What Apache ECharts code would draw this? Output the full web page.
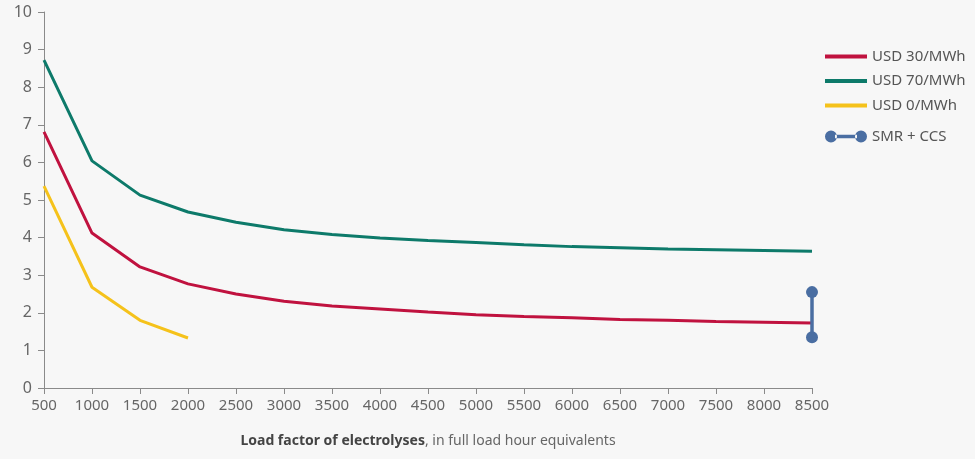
<!DOCTYPE html>
<html>
<head>
<meta charset="utf-8">
<script src="https://cdn.jsdelivr.net/npm/echarts@6/dist/echarts.min.js"></script>
<style>
html,body{margin:0;padding:0;background:#f7f7f7;}
#c{width:975px;height:459px;}
</style>
</head>
<body>
<div id="c"></div>
<script>
const loadHours = [500,1000,1500,2000,2500,3000,3500,4000,4500,5000,5500,6000,6500,7000,7500,8000,8500];
const usd30 = [6.81,4.12,3.22,2.77,2.50,2.31,2.18,2.10,2.02,1.95,1.90,1.87,1.82,1.80,1.77,1.75,1.73];
const usd70 = [8.72,6.04,5.13,4.68,4.41,4.21,4.08,3.99,3.92,3.87,3.81,3.76,3.73,3.70,3.68,3.66,3.64];
const usd0 = [5.37,2.68,1.80,1.33];
const smrX = [8500,8500];
const smrY = [2.55,1.35];
const seriesNames = ['USD 30/MWh','USD 70/MWh','USD 0/MWh','SMR + CCS'];

const pair = (xs, ys) => ys.map((v,i)=>[xs[i], v]);
const font = "'Noto Sans',sans-serif";
const legendText = {color:'#555',fontSize:15,fontFamily:font};
const chart = echarts.init(document.getElementById('c'));
chart.setOption({
  backgroundColor:'#f7f7f7',
  animation:false,
  grid:{left:44,right:163,top:12,bottom:71},
  legend:[
    {
      orient:'vertical', left:820, top:44, itemWidth:42, itemHeight:4, itemGap:9.5,
      icon:'rect', textStyle:legendText,
      data:[seriesNames[0],seriesNames[1],seriesNames[2]]
    },
    {
      orient:'vertical', left:820, top:124, itemWidth:42, itemHeight:12,
      textStyle:legendText,
      itemStyle:{color:'#4a6ea2',borderWidth:0},
      data:[{name:seriesNames[3], icon:'path://M0,6a6,6 0 1,0 12,0a6,6 0 1,0 -12,0ZM30,6a6,6 0 1,0 12,0a6,6 0 1,0 -12,0ZM10,4.2L32,4.2L32,7.8L10,7.8Z'}]
    }
  ],
  xAxis:{
    type:'value', min:500, max:8500, interval:500,
    axisLine:{lineStyle:{color:'#8a8a8a',width:1}},
    axisTick:{show:true,length:6,lineStyle:{color:'#8a8a8a'}},
    splitLine:{show:false},
    axisLabel:{color:'#666',fontSize:15,fontFamily:font,margin:10,formatter:v=>String(v)},
    name:'{b|Load factor of electrolyses}{n|, in full load hour equivalents}',
    nameLocation:'middle', nameGap:46,
    nameTextStyle:{rich:{
      b:{fontWeight:'bold',color:'#444',fontSize:14,fontFamily:font},
      n:{color:'#666',fontSize:14,fontFamily:font}
    }}
  },
  yAxis:{
    type:'value', min:0, max:10, interval:1,
    axisLine:{show:true,lineStyle:{color:'#8a8a8a',width:1}},
    axisTick:{show:true,length:6,lineStyle:{color:'#8a8a8a'}},
    splitLine:{show:false},
    axisLabel:{color:'#666',fontSize:16,fontFamily:font,margin:12}
  },
  series:[
    {name:seriesNames[0],type:'line',data:pair(loadHours,usd30),symbol:'none',lineStyle:{color:'#c0123f',width:3},itemStyle:{color:'#c0123f'}},
    {name:seriesNames[1],type:'line',data:pair(loadHours,usd70),symbol:'none',lineStyle:{color:'#0d7a6a',width:3},itemStyle:{color:'#0d7a6a'}},
    {name:seriesNames[2],type:'line',data:pair(loadHours,usd0),symbol:'none',lineStyle:{color:'#f5c21b',width:3},itemStyle:{color:'#f5c21b'}},
    {name:seriesNames[3],type:'line',data:pair(smrX,smrY),symbol:'circle',symbolSize:12,lineStyle:{color:'#4a6ea2',width:3.5},itemStyle:{color:'#4a6ea2'}}
  ]
});
</script>
</body>
</html>
